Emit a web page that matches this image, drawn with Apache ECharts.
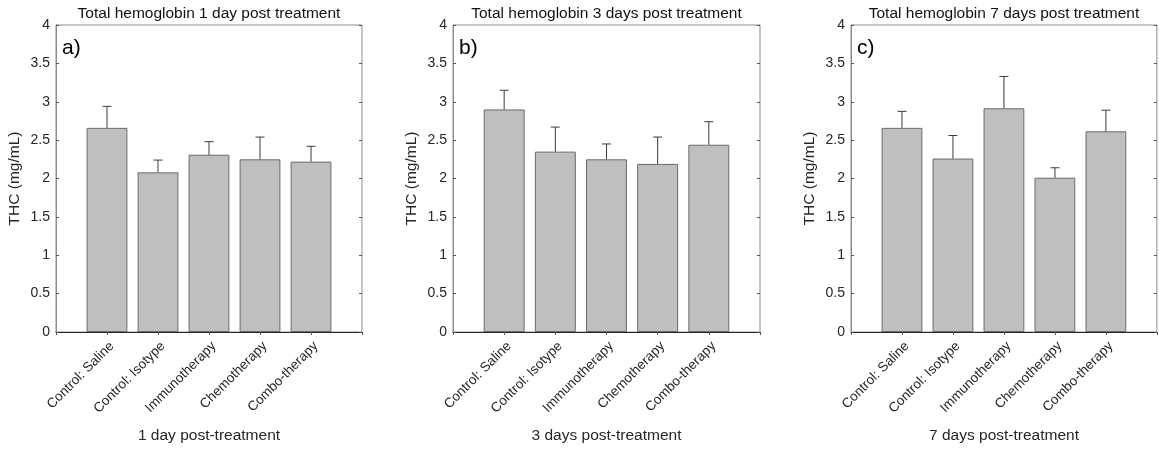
<!DOCTYPE html>
<html>
<head>
<meta charset="utf-8">
<script src="https://cdn.jsdelivr.net/npm/echarts@6/dist/echarts.min.js"></script>
<style>
html,body{margin:0;padding:0;background:#fff;}
#chart{width:1159px;height:450px;}
</style>
</head>
<body>
<div id="chart"></div>
<script>
const categories = ['Control: Saline', 'Control: Isotype', 'Immunotherapy', 'Chemotherapy', 'Combo-therapy'];
const mean1 = [2.66, 2.08, 2.31, 2.25, 2.22];
const err1  = [0.28, 0.16, 0.17, 0.29, 0.20];
const mean3 = [2.90, 2.35, 2.25, 2.19, 2.44];
const err3  = [0.25, 0.32, 0.20, 0.35, 0.30];
const mean7 = [2.66, 2.26, 2.915, 2.01, 2.615];
const err7  = [0.215, 0.30, 0.415, 0.13, 0.275];
const titles = ['Total hemoglobin 1 day post treatment', 'Total hemoglobin 3 days post treatment', 'Total hemoglobin 7 days post treatment'];
const xNames = ['1 day post-treatment', '3 days post-treatment', '7 days post-treatment'];
const panelTags = ['a)', 'b)', 'c)'];
const yName = 'THC (mg/mL)';

const means = [mean1, mean3, mean7];
const errs = [err1, err3, err7];
const FONT = '"Liberation Sans", Arial, Helvetica, sans-serif';
const grids = [
  {left: 56, top: 25, width: 306, height: 307},
  {left: 453, top: 25, width: 307, height: 307},
  {left: 851, top: 25, width: 306, height: 307}
];
const paddedCats = [''].concat(categories, ['']);

const option = {
  backgroundColor: '#fff',
  animation: false,
  grid: grids.map(g => Object.assign({show: true, borderColor: '#8c8c8c', borderWidth: 1, backgroundColor: '#fff'}, g)),
  xAxis: [],
  yAxis: [],
  series: [],
  graphic: []
};

grids.forEach((g, i) => {
  option.xAxis.push({
    type: 'category', gridIndex: i, data: paddedCats, boundaryGap: false, position: 'bottom',
    axisLine: {show: true, lineStyle: {color: '#262626', width: 1}},
    axisTick: {show: false},
    axisLabel: {interval: 0, rotate: 45, color: '#262626', fontSize: 13.5, fontFamily: FONT, margin: 7, verticalAlign: 'top'},
    splitLine: {show: false}
  });
  option.xAxis.push({
    type: 'category', gridIndex: i, data: paddedCats, boundaryGap: false, position: 'top',
    axisLine: {show: false},
    axisTick: {show: true, inside: true, length: 3, interval: 0, lineStyle: {color: '#555'}},
    axisLabel: {show: false},
    splitLine: {show: false}
  });
  option.yAxis.push({
    type: 'value', gridIndex: i, min: 0, max: 4, interval: 0.5, position: 'left',
    axisLine: {show: true, lineStyle: {color: '#8c8c8c'}},
    axisTick: {show: true, inside: true, length: 3, lineStyle: {color: '#555'}},
    axisLabel: {color: '#262626', fontSize: 14, fontFamily: FONT, margin: 6},
    splitLine: {show: false}
  });
  option.yAxis.push({
    type: 'value', gridIndex: i, min: 0, max: 4, interval: 0.5, position: 'right',
    axisLine: {show: false},
    axisTick: {show: true, inside: true, length: 3, lineStyle: {color: '#555'}},
    axisLabel: {show: false},
    splitLine: {show: false}
  });
  option.series.push({
    type: 'bar', xAxisIndex: 2 * i, yAxisIndex: 2 * i,
    data: [null].concat(means[i], [null]),
    barWidth: '80%',
    itemStyle: {color: '#bfbfbf', borderColor: '#6a6a6a', borderWidth: 1},
    z: 2
  });
  option.series.push({
    type: 'custom', xAxisIndex: 2 * i, yAxisIndex: 2 * i,
    data: means[i].map((m, k) => [k + 1, m, errs[i][k]]),
    renderItem: function (params, api) {
      const x = api.value(0), m = api.value(1), e = api.value(2);
      const p0 = api.coord([x, m]);
      const p1 = api.coord([x, m + e]);
      const st = {stroke: '#3a3a3a', lineWidth: 1, fill: null};
      return {
        type: 'group',
        children: [
          {type: 'line', shape: {x1: p0[0], y1: p0[1], x2: p1[0], y2: p1[1]}, style: st},
          {type: 'line', shape: {x1: p1[0] - 4.5, y1: p1[1], x2: p1[0] + 4.5, y2: p1[1]}, style: st}
        ]
      };
    },
    z: 3
  });
  const cx = g.left + g.width / 2;
  option.graphic.push({
    type: 'text', x: cx, y: 14,
    style: {text: titles[i], font: '15.5px ' + FONT, fill: '#111', align: 'center', verticalAlign: 'middle'}
  });
  option.graphic.push({
    type: 'text', x: cx, y: 436,
    style: {text: xNames[i], font: '15.5px ' + FONT, fill: '#262626', align: 'center', verticalAlign: 'middle'}
  });
  option.graphic.push({
    type: 'text', x: g.left - 41, y: g.top + g.height / 2, rotation: Math.PI / 2,
    style: {text: yName, font: '15.5px ' + FONT, fill: '#262626', align: 'center', verticalAlign: 'middle'}
  });
  option.graphic.push({
    type: 'text', x: g.left + 6, y: 48,
    style: {text: panelTags[i], font: '21px ' + FONT, fill: '#000', align: 'left', verticalAlign: 'middle'}
  });
});

const chart = echarts.init(document.getElementById('chart'), null, {renderer: 'canvas'});
chart.setOption(option);
</script>
</body>
</html>
